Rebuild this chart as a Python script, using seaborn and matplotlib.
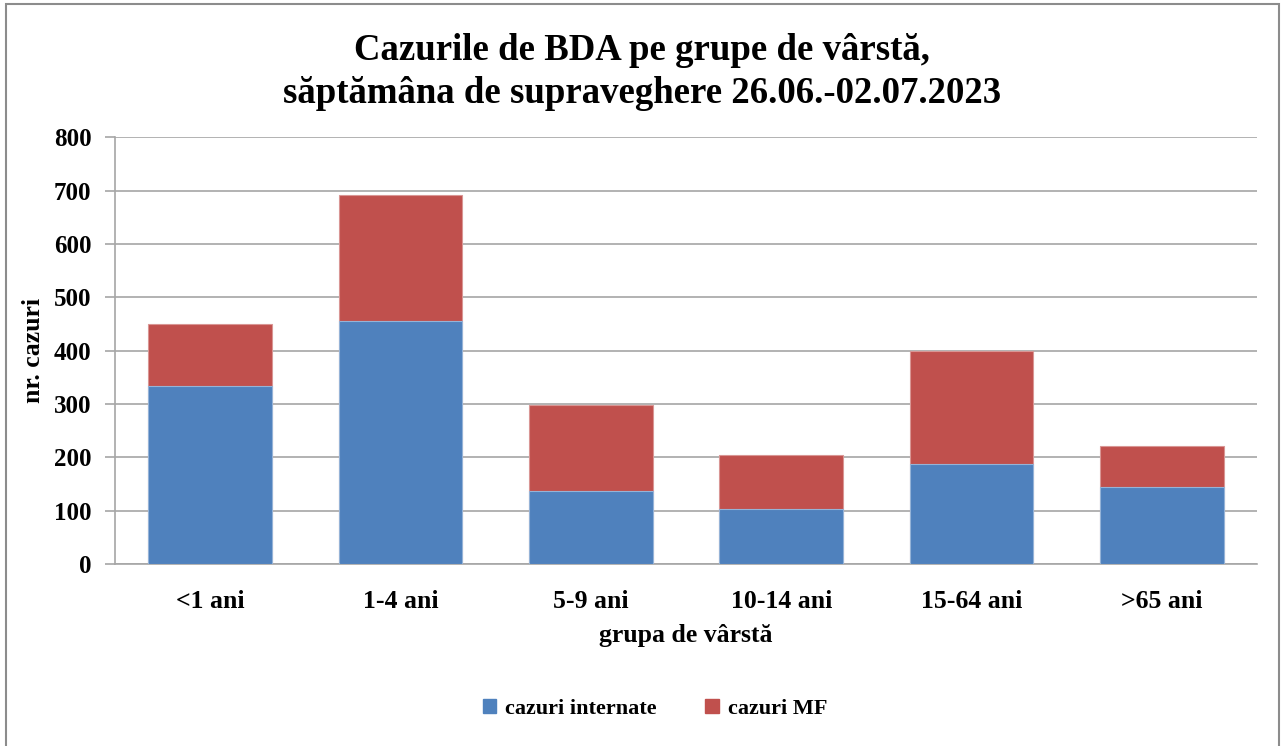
import numpy as np
import pandas as pd
import matplotlib
matplotlib.use("Agg")
import matplotlib.pyplot as plt
import matplotlib.patches as mpatches
import seaborn as sns

grupe = ["<1 ani", "1-4 ani", "5-9 ani", "10-14 ani", "15-64 ani", ">65 ani"]
internate = [334, 456, 137, 103, 188, 144]
mf = [116, 236, 162, 101, 211, 77]

blue = "#4F81BD"
red = "#C0504D"

sns.set_theme(style="white")
plt.rcParams["font.family"] = ["Liberation Serif", "DejaVu Serif"]
plt.rcParams["font.weight"] = "bold"
plt.rcParams["text.color"] = "black"
plt.rcParams["axes.labelcolor"] = "black"
plt.rcParams["xtick.color"] = "black"
plt.rcParams["ytick.color"] = "black"

df = pd.DataFrame({"grupa": grupe, "internate": internate, "mf": mf})
df["total"] = df["internate"] + df["mf"]

fig = plt.figure(figsize=(12.84, 7.46), dpi=100)
ax = fig.add_axes([0.0896, 0.244, 0.8894, 0.5717])

sns.barplot(data=df, x="grupa", y="total", color=red, width=0.65,
            saturation=1, edgecolor="#D99694", linewidth=0.8, ax=ax, zorder=3)
sns.barplot(data=df, x="grupa", y="internate", color=blue, width=0.65,
            saturation=1, edgecolor="#95B3D7", linewidth=0.8, ax=ax, zorder=4)

ax.set_ylim(0, 800)
ax.set_yticks(range(0, 801, 100))
ax.set_xlim(-0.5, len(grupe) - 0.5)
ax.yaxis.grid(True, color="#A6A6A6", linewidth=1.2, zorder=0)
ax.set_axisbelow(True)
for s in ["top", "right"]:
    ax.spines[s].set_visible(False)
for s in ["left", "bottom"]:
    ax.spines[s].set_color("#A6A6A6")
    ax.spines[s].set_linewidth(1.2)
ax.tick_params(axis="y", which="major", left=True, length=7, width=1.2,
               color="#A6A6A6", labelcolor="black", labelsize=18, pad=10)
ax.tick_params(axis="x", bottom=False, labelcolor="black", labelsize=18.5, pad=13)
for lab in ax.get_xticklabels() + ax.get_yticklabels():
    lab.set_fontweight("bold")

ax.set_xlabel("grupa de vârstă", fontsize=18.5, fontweight="bold", labelpad=8)
ax.set_ylabel("nr. cazuri", fontsize=18.5, fontweight="bold", labelpad=6)

fig.text(0.5, 0.904, "Cazurile de BDA pe grupe de vârstă,\nsăptămâna de supraveghere 26.06.-02.07.2023",
         ha="center", va="center", fontsize=26.5, fontweight="bold", linespacing=1.3)

handles = [mpatches.Patch(color=blue, label="cazuri internate"),
           mpatches.Patch(color=red, label="cazuri MF")]
fig.legend(handles=handles, loc="center", bbox_to_anchor=(0.51, 0.05), ncol=2,
           frameon=False, prop={"size": 16, "weight": "bold"},
           handlelength=0.6, handleheight=0.6, columnspacing=2.2, handletextpad=0.4)

fig.patches.append(mpatches.Rectangle((6 / 1284, -0.01), 1273 / 1284, 1 - 4 / 746 + 0.01,
                                      transform=fig.transFigure, fill=False,
                                      edgecolor="#8C8C8C", linewidth=1.5))

fig.savefig("out.png", dpi=100)
